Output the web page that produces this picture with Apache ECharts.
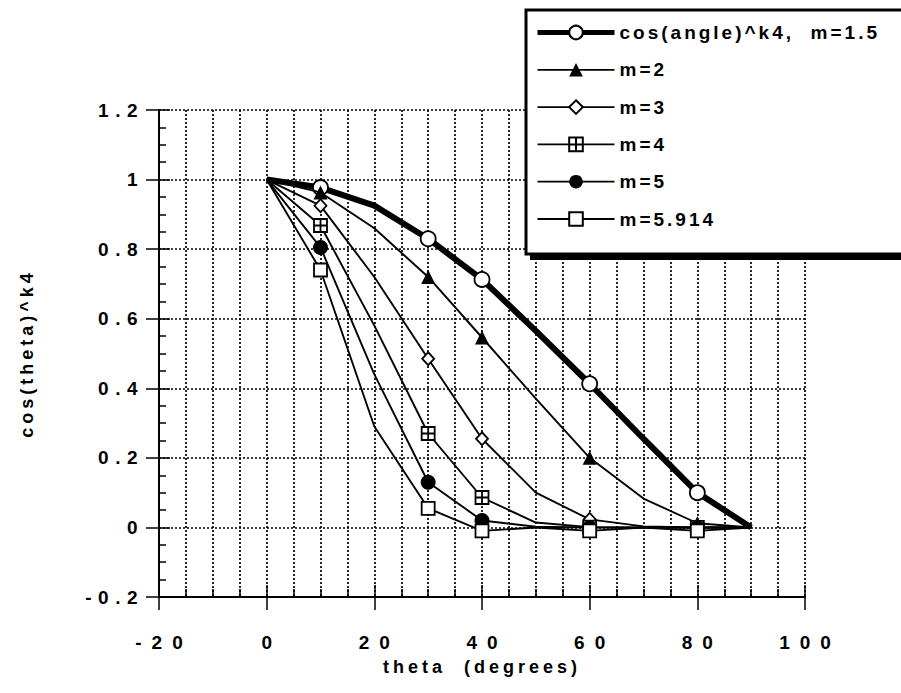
<!DOCTYPE html>
<html><head><meta charset="utf-8">
<script src="https://cdn.jsdelivr.net/npm/echarts@6/dist/echarts.min.js"></script>
<style>
html,body{margin:0;padding:0;background:#fff}
#c{width:901px;height:693px}
#c text[style*="lsx"]{letter-spacing:10px}
#c text[style*="lsy"]{letter-spacing:6.5px}
#c text[style*="lsn"]{letter-spacing:4px}
#c text[style*="lsl"]{letter-spacing:3px}
</style></head><body><div id="c"></div>
<script>
// ---- data ----
const thetaDeg = [0, 10, 20, 30, 40, 50, 60, 70, 80, 90];
const markedTheta = [10, 30, 40, 60, 80];
const seriesNames = ['cos(angle)^k4,  m=1.5', 'm=2', 'm=3', 'm=4', 'm=5', 'm=5.914'];
const m1_5   = [1, 0.977, 0.925, 0.83, 0.713, 0.565, 0.413, 0.255, 0.10, 0];
const m2     = [1, 0.963, 0.86, 0.72, 0.546, 0.37, 0.20, 0.083, 0.012, 0];
const m3     = [1, 0.925, 0.72, 0.485, 0.255, 0.10, 0.023, 0.003, 0, 0];
const m4     = [1, 0.868, 0.58, 0.27, 0.086, 0.014, 0.001, 0, 0, 0];
const m5     = [1, 0.805, 0.44, 0.13, 0.02, 0.002, 0, 0, 0, 0];
const m5_914 = [1, 0.74, 0.29, 0.055, -0.01, 0, -0.01, 0, -0.01, 0];
const xTickMin = -20, xTickMax = 100, xTickStep = 20;
const yTickMin = -0.2, yTickMax = 1.2, yTickStep = 0.2;
const xTitle = 'theta  (degrees)';
const yTitle = 'cos(theta)^k4';

const allValues = [m1_5, m2, m3, m4, m5, m5_914];
const symbols = ['circle', 'triangle', 'diamond',
  'path://M0,0H10V10H0Z M5,0V10 M0,5H10', 'circle', 'rect'];
const symbolSizes = [15, 14, [12, 13], 13, 15, 13];
const fills = ['#fff', '#000', '#fff', '#fff', '#000', '#fff'];
const widths = [6, 1.9, 1.9, 1.9, 1.9, 1.9];

const F = "'Liberation Sans', ";
const dotted = { color: '#000', type: [2, 2], width: 1.7 };

function buildData(vals) {
  return thetaDeg.map((t, i) => markedTheta.indexOf(t) >= 0
    ? { value: [t, vals[i]] }
    : { value: [t, vals[i]], symbol: 'none' });
}

const series = allValues.map((vals, i) => ({
  name: seriesNames[i],
  type: 'line',
  xAxisIndex: 0, yAxisIndex: 0,
  data: buildData(vals),
  symbol: symbols[i],
  symbolSize: symbolSizes[i],
  showAllSymbol: true,
  lineStyle: { color: '#000', width: widths[i] },
  itemStyle: { color: fills[i], borderColor: '#000', borderWidth: fills[i] === '#fff' ? 1.8 : 0 },
  emphasis: { disabled: true },
  z: 2 + i
}));

const chart = echarts.init(document.getElementById('c'), null, { renderer: 'svg' });
chart.setOption({
  animation: false,
  backgroundColor: '#fff',
  grid: { left: 159, right: 96, top: 110, bottom: 96, containLabel: false },
  xAxis: [{
    type: 'value', min: xTickMin, max: xTickMax, interval: xTickStep, position: 'bottom',
    axisLine: { show: true, onZero: false, lineStyle: { color: '#000', width: 2 } },
    axisTick: { show: true, inside: false, length: 13, lineStyle: { color: '#000', width: 1.5 } },
    axisLabel: { margin: 36, fontSize: 19, fontWeight: 'bold', color: '#000', fontFamily: F + 'lsx', padding: [0, 0, 0, 10] },
    splitLine: { show: true, lineStyle: dotted },
    minorTick: { show: false, splitNumber: 4 },
    minorSplitLine: { show: true, lineStyle: dotted },
    name: xTitle, nameLocation: 'middle', nameGap: 61,
    nameTextStyle: { fontSize: 18, fontWeight: 'bold', color: '#000', fontFamily: F + 'lsn' }
  }, {
    type: 'value', min: xTickMin, max: xTickMax, interval: xTickStep, position: 'bottom',
    axisLine: { show: false, onZero: false },
    axisTick: { show: true, inside: true, length: 12, lineStyle: { color: '#000', width: 1.5 } },
    minorTick: { show: true, splitNumber: 4, length: 8, lineStyle: { color: '#000', width: 1.5 } },
    axisLabel: { show: false },
    splitLine: { show: false }
  }],
  yAxis: [{
    type: 'value', min: yTickMin, max: yTickMax, interval: yTickStep, position: 'left',
    axisLine: { show: true, onZero: false, lineStyle: { color: '#000', width: 2 } },
    axisTick: { show: true, inside: false, length: 13, lineStyle: { color: '#000', width: 1.5 } },
    axisLabel: { margin: 15, fontSize: 19, fontWeight: 'bold', color: '#000', fontFamily: F + 'lsy' },
    splitLine: { show: true, lineStyle: dotted },
    name: yTitle, nameLocation: 'middle', nameGap: 123,
    nameTextStyle: { fontSize: 18, fontWeight: 'bold', color: '#000', fontFamily: F + 'lsn' }
  }, {
    type: 'value', min: yTickMin, max: yTickMax, interval: yTickStep, position: 'left',
    axisLine: { show: false, onZero: false },
    axisTick: { show: true, inside: true, length: 11, lineStyle: { color: '#000', width: 1.5 } },
    minorTick: { show: true, splitNumber: 4, length: 7, lineStyle: { color: '#000', width: 1.5 } },
    axisLabel: { show: false },
    splitLine: { show: false }
  }],
  legend: {
    orient: 'vertical', left: 535, top: 23, padding: 0,
    itemWidth: 77, itemHeight: 17, itemGap: 18.3,
    selectedMode: false,
    textStyle: { fontSize: 19, fontWeight: 'bold', color: '#000', fontFamily: F + 'lsl', lineHeight: 17 },
    data: seriesNames.map((n, i) => ({ name: n, lineStyle: { color: '#000', width: i === 0 ? 5 : 1.8 } })),
    z: 10
  },
  graphic: [
    { type: 'rect', z: 8, silent: true, shape: { x: 530, y: 16, width: 420, height: 244 }, style: { fill: '#000' } },
    { type: 'rect', z: 9, silent: true, shape: { x: 526, y: 10, width: 420, height: 244 }, style: { fill: '#fff', stroke: '#000', lineWidth: 3 } }
  ],
  series: series
});
</script></body></html>
